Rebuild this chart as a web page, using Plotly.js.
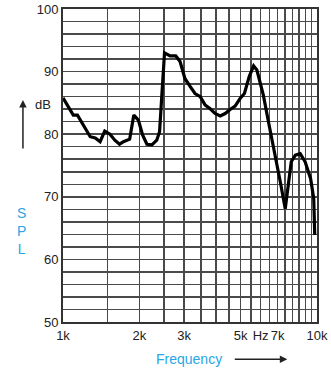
<!DOCTYPE html>
<html>
<head>
<meta charset="utf-8">
<script src="https://cdn.plot.ly/plotly-3.0.1.min.js"></script>
<style>
  html, body { margin: 0; padding: 0; background: #fff; }
  #chart { width: 331px; height: 371px; }
</style>
</head>
<body>
<div id="chart"></div>
<script>
// Frequency (Hz)
const freq = [1000,1050,1098,1140,1170,1220,1280,1340,1400,1460,1530,1600,1670,1730,1830,1900,1980,2060,2140,2240,2340,2400,2510,2640,2780,2890,3020,3170,3310,3470,3630,3790,3970,4160,4350,4550,4760,4980,5180,5410,5630,5800,6150,6440,6850,7170,7500,7740,7920,8220,8590,8980,9440,9710,9800];
// SPL (dB)
const spl = [85.8,84.4,83.05,83.05,82.25,80.9,79.6,79.4,78.8,80.5,80.0,79.05,78.4,78.8,79.2,83.05,82.25,79.85,78.4,78.3,79.05,80.4,93.0,92.5,92.5,91.6,88.9,87.6,86.5,86.0,84.65,84.1,83.3,82.9,83.3,83.95,84.5,85.7,86.5,89.2,90.9,90.25,86.25,82.0,76.65,72.4,68.1,72.4,75.6,76.65,76.9,75.6,72.9,69.7,63.9];

// Axis tick labels
const xTickVals = [1000,2000,3000,5000,6000,7000,10000];
const xTickText = ['1k','2k','3k','5k','Hz','7k','10k'];
const yTickVals = [50,60,70,80,90,100];
// Vertical grid frequencies
const xGridVals = [1500,2000,2500,3000,3500,4000,4500,5000,5500,6000,6500,7000,7500,8000,8500,9000,9500];

const gridColor = '#4a4a4a';
const blue = '#29a6e6';

const trace = {
  x: freq, y: spl, type: 'scatter', mode: 'lines',
  line: { color: '#000', width: 3.2, shape: 'linear' },
  hoverinfo: 'skip'
};

const layout = {
  width: 331, height: 371,
  margin: { l: 63, r: 14, t: 9, b: 49 },
  paper_bgcolor: '#fff', plot_bgcolor: '#fff',
  showlegend: false,
  font: { family: 'Liberation Sans, Arial, sans-serif', size: 13, color: '#222' },
  xaxis: {
    type: 'log', range: [3, 4.0001],
    tickmode: 'array', tickvals: xTickVals, ticktext: xTickText,
    tickangle: 0,
    showgrid: false, ticks: '', zeroline: false,
    showline: true, linecolor: '#333', linewidth: 2, mirror: true,
    tickfont: { size: 13, color: '#222' },
    minor: { tickmode: 'array', tickvals: xGridVals, showgrid: true, gridcolor: gridColor, gridwidth: 1.5, ticks: '' }
  },
  yaxis: {
    range: [50, 100],
    tickmode: 'array', tickvals: yTickVals,
    showgrid: true, gridcolor: gridColor, gridwidth: 1.5,
    ticks: '', zeroline: false,
    showline: true, linecolor: '#333', linewidth: 2, mirror: true,
    tickfont: { size: 13, color: '#222' },
    minor: { dtick: 2, showgrid: true, gridcolor: gridColor, gridwidth: 1.5, ticks: '' }
  },
  annotations: [
    { xref: 'paper', yref: 'paper', x: -0.078, y: 0.696, text: 'dB', showarrow: false,
      font: { size: 13, color: '#222' }, xanchor: 'center', yanchor: 'middle' },
    { xref: 'paper', yref: 'paper', x: -0.1577, y: 0.709, text: '', showarrow: true,
      ax: 0, ay: 50, arrowhead: 2, arrowsize: 1, arrowwidth: 1.5, arrowcolor: '#222' },
    { xref: 'paper', yref: 'paper', x: -0.162, y: 0.29, text: 'S<br>P<br>L', showarrow: false,
      font: { size: 14, color: blue }, xanchor: 'center', yanchor: 'middle', align: 'center' },
    { xref: 'paper', yref: 'paper', x: 0.497, y: -0.117, text: 'Frequency', showarrow: false,
      font: { size: 14, color: blue }, xanchor: 'center', yanchor: 'middle' },
    { xref: 'paper', yref: 'paper', x: 0.883, y: -0.119, text: '', showarrow: true,
      ax: -54, ay: 0, arrowhead: 2, arrowsize: 1, arrowwidth: 1.5, arrowcolor: '#222' }
  ]
};

Plotly.newPlot('chart', [trace], layout, { staticPlot: true, displayModeBar: false });
</script>
</body>
</html>
